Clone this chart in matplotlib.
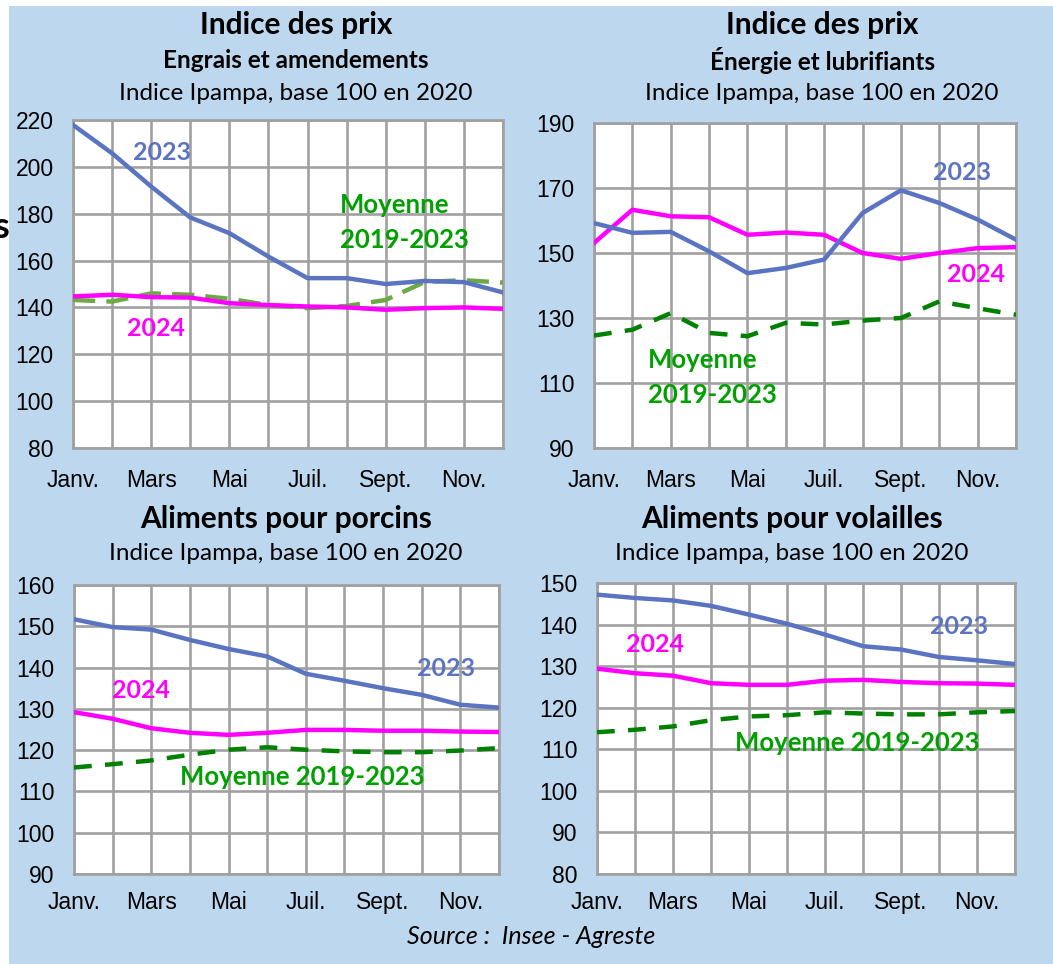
import numpy as np
import matplotlib
matplotlib.use('Agg')
import matplotlib.pyplot as plt
from matplotlib.patches import Rectangle

# Mois (12 points, janv. a dec.)
months = ['Janv.', '', 'Mars', '', 'Mai', '', 'Juil.', '', 'Sept.', '', 'Nov.', '']

# Engrais et amendements
engrais_2023 = [217.9, 205.8, 191.6, 178.4, 171.7, 161.7, 152.5, 152.5, 150.0, 151.3, 150.8, 146.4]
engrais_2024 = [144.7, 145.4, 144.4, 144.2, 141.8, 141.0, 140.4, 140.0, 139.0, 139.7, 140.0, 139.4]
engrais_moy = [143.2, 142.5, 146.0, 145.4, 143.7, 141.0, 139.7, 140.6, 143.2, 150.9, 151.6, 150.6]

# Energie et lubrifiants
energie_2023 = [159.2, 156.2, 156.5, 150.5, 143.8, 145.4, 148.0, 162.3, 169.3, 165.4, 160.3, 154.1]
energie_2024 = [153.1, 163.3, 161.3, 161.0, 155.6, 156.3, 155.6, 150.0, 148.2, 150.0, 151.5, 151.8]
energie_moy = [124.6, 126.4, 131.5, 125.4, 124.4, 128.5, 128.0, 129.2, 130.0, 135.1, 133.0, 131.0]

# Aliments pour porcins
porcins_2023 = [151.7, 149.8, 149.2, 146.7, 144.5, 142.7, 138.5, 136.8, 135.0, 133.4, 131.0, 130.3]
porcins_2024 = [129.2, 127.6, 125.3, 124.2, 123.7, 124.2, 124.9, 124.9, 124.7, 124.7, 124.5, 124.4]
porcins_moy = [115.8, 116.6, 117.5, 118.9, 120.1, 120.7, 120.1, 119.7, 119.5, 119.5, 119.9, 120.5]

# Aliments pour volailles
volailles_2023 = [147.2, 146.4, 145.8, 144.5, 142.4, 140.2, 137.6, 134.8, 134.0, 132.2, 131.4, 130.5]
volailles_2024 = [129.4, 128.3, 127.7, 125.9, 125.5, 125.5, 126.5, 126.7, 126.2, 125.9, 125.8, 125.5]
volailles_moy = [114.1, 114.7, 115.5, 117.0, 117.9, 118.2, 118.9, 118.6, 118.4, 118.4, 118.9, 119.2]

W, H = 1053, 964
BG = '#BDD7EE'
BLUE = '#5B74C2'
MAGENTA = '#FF00FF'
GREEN_TXT = '#00A000'
GRID = '#A0A0A0'

plt.rcParams['font.family'] = ['Liberation Sans', 'DejaVu Sans']

fig = plt.figure(figsize=(W / 100, H / 100), dpi=100, facecolor='white')
fig.patches.append(Rectangle((9 / W, 0), 1 - 9 / W, 1 - 6 / H, transform=fig.transFigure,
                             facecolor=BG, edgecolor='none', zorder=-10))


def px(x, y):
    return x / W, 1 - y / H


def panel(rect, y23, y24, ymoy, ylim, ystep, moy_color, dash, xpad):
    l, t, r, b = rect
    ax = fig.add_axes([l / W, 1 - b / H, (r - l) / W, (b - t) / H])
    ax.set_facecolor('white')
    x = np.arange(12)
    ax.plot(x, ymoy, color=moy_color, lw=3.2, ls=(0, dash), solid_capstyle='butt', zorder=3)
    ax.plot(x, y24, color=MAGENTA, lw=3.2, zorder=4, solid_joinstyle='round')
    ax.plot(x, y23, color=BLUE, lw=3.2, zorder=5, solid_joinstyle='round')
    ax.set_xlim(0, 11)
    ax.set_ylim(*ylim)
    ax.set_yticks(np.arange(ylim[0], ylim[1] + 1, ystep))
    ax.set_xticks(x)
    ax.set_xticklabels(months)
    ax.grid(True, color=GRID, lw=1.9)
    for s in ax.spines.values():
        s.set_color(GRID)
        s.set_linewidth(1.9)
    ax.tick_params(length=0, labelsize=16.5, colors='black')
    ax.tick_params(axis='y', pad=14)
    ax.tick_params(axis='x', pad=xpad)
    ax.set_axisbelow(True)
    return ax


def label(x, y, s, color, size=18.5, ha='left'):
    fig.text(*px(x, y), s, color=color, fontsize=size, fontweight='bold',
             family='Lato', ha=ha, va='center')


def titles(cx, lines):
    for y, s, size, weight in lines:
        fig.text(*px(cx, y), s, fontsize=size, fontweight=weight, family='Lato',
                 ha='center', va='center', color='black')


# Panneau 1
panel((73, 120, 503, 448), engrais_2023, engrais_2024, engrais_moy, (80, 220), 20, '#6AAA45', (5, 2.5), 15)
titles(296, [(25, 'Indice des prix', 21.5, 'bold'),
             (61, 'Engrais et amendements', 17.5, 'bold'),
             (94, 'Indice Ipampa, base 100 en 2020', 17.5, 'normal')])
label(133, 153, '2023', BLUE, 18)
label(127, 328, '2024', MAGENTA, 18)
label(340, 205, 'Moyenne', GREEN_TXT)
label(340, 240, '2019-2023', GREEN_TXT)

# Panneau 2
panel((594, 123, 1016, 448), energie_2023, energie_2024, energie_moy, (90, 190), 20, '#008000', (4, 3), 15)
titles(822, [(25, 'Indice des prix', 21.5, 'bold'),
             (60, 'Énergie et lubrifiants', 17.5, 'bold'),
             (93, 'Indice Ipampa, base 100 en 2020', 17.5, 'normal')])
label(933, 172, '2023', BLUE, 18)
label(947, 275, '2024', MAGENTA, 18)
label(648, 360, 'Moyenne', GREEN_TXT)
label(648, 395, '2019-2023', GREEN_TXT)

# Panneau 3
panel((74, 585, 499, 874), porcins_2023, porcins_2024, porcins_moy, (90, 160), 10, '#008000', (4, 3), 12)
titles(286, [(519, 'Aliments pour porcins', 21.5, 'bold'),
             (553, 'Indice Ipampa, base 100 en 2020', 17.5, 'normal')])
label(417, 668, '2023', BLUE, 18)
label(112, 691, '2024', MAGENTA, 18)
label(180, 777, 'Moyenne 2019-2023', GREEN_TXT)

# Panneau 4
panel((597, 583, 1015, 874), volailles_2023, volailles_2024, volailles_moy, (80, 150), 10, '#008000', (4, 3), 12)
titles(792, [(519, 'Aliments pour volailles', 21.5, 'bold'),
             (553, 'Indice Ipampa, base 100 en 2020', 17.5, 'normal')])
label(930, 626, '2023', BLUE, 18)
label(626, 644, '2024', MAGENTA, 18)
label(735, 743, 'Moyenne 2019-2023', GREEN_TXT)

# lettre coupee a gauche
fig.text(*px(9, 228), 's', fontsize=26, fontweight='bold', family='Lato', ha='right', va='center')

fig.text(*px(531, 937), 'Source :  Insee - Agreste', fontsize=18, style='italic',
         family='Lato', ha='center', va='center')

fig.savefig('out.png', dpi=100, facecolor='white')
